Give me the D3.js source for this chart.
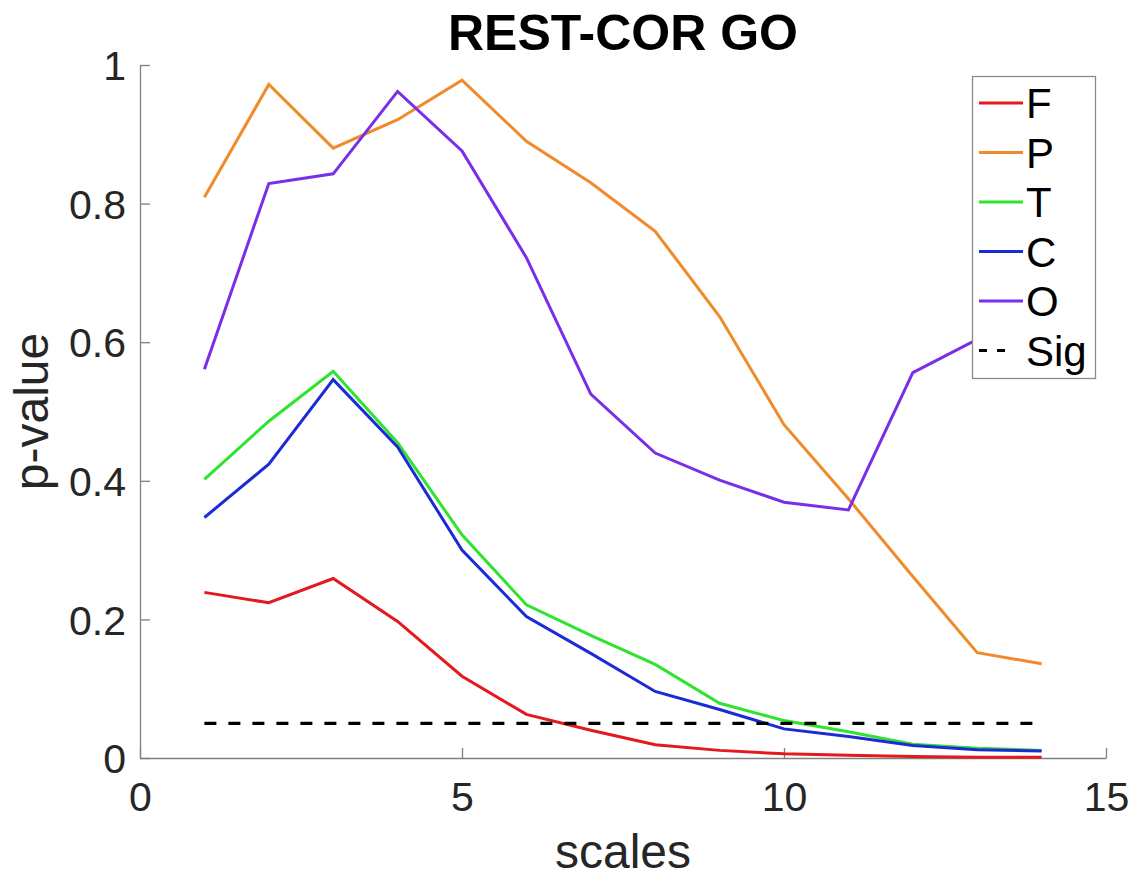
<!DOCTYPE html>
<html>
<head>
<meta charset="utf-8">
<script src="https://cdn.jsdelivr.net/npm/d3@7"></script>
<style>
  html, body { margin: 0; padding: 0; background: #fff; }
  svg { display: block; font-family: "Liberation Sans", Arial, Helvetica, sans-serif; }
</style>
</head>
<body>
<svg id="chart" width="1138" height="884"></svg>
<script>
// ---- data ----
const scales = [1,2,3,4,5,6,7,8,9,10,11,12,13,14];
const seriesF = [0.239,0.224,0.259,0.197,0.118,0.063,0.040,0.019,0.011,0.006,0.004,0.002,0.001,0.001];
const seriesP = [0.809,0.972,0.880,0.921,0.978,0.890,0.830,0.760,0.637,0.481,0.374,0.262,0.152,0.136];
const seriesT = [0.402,0.486,0.558,0.455,0.322,0.221,0.177,0.135,0.079,0.054,0.038,0.020,0.014,0.011];
const seriesC = [0.347,0.424,0.546,0.449,0.300,0.204,0.151,0.096,0.070,0.042,0.031,0.018,0.012,0.010];
const seriesO = [0.561,0.829,0.843,0.962,0.876,0.722,0.525,0.440,0.401,0.369,0.358,0.556,0.604,0.640];
const sigLevel = 0.05;
const seriesNames = ["F","P","T","C","O"];
const seriesColors = ["#e3191e","#f08a2a","#2fe32f","#1b2bd6","#7a2ee8"];
const xTicks = [0,5,10,15];
const yTicks = [0,0.2,0.4,0.6,0.8,1];
const yTickLabels = ["0","0.2","0.4","0.6","0.8","1"];
const titleText = "REST-COR GO";
const xLabel = "scales";
const yLabel = "p-value";

const allSeries = [seriesF, seriesP, seriesT, seriesC, seriesO];

// ---- layout ----
const svg = d3.select("#chart");
const mLeft = 140, mRight = 1106, mTop = 65, mBottom = 758;
const x = d3.scaleLinear().domain([0,15]).range([mLeft,mRight]);
const y = d3.scaleLinear().domain([0,1]).range([mBottom,mTop]);
const axisColor = "#7f7f7f";
const textColor = "#262626";

// axes
const xAxis = svg.append("g").attr("transform", `translate(0,${mBottom})`)
  .call(d3.axisBottom(x).tickValues(xTicks).tickSizeInner(-10).tickSizeOuter(0).tickPadding(24).tickFormat(d3.format("d")));
const yAxis = svg.append("g").attr("transform", `translate(${mLeft},0)`)
  .call(d3.axisLeft(y).tickValues(yTicks).tickSizeInner(-10).tickSizeOuter(0).tickPadding(14).tickFormat((d,i)=>yTickLabels[i]));
[xAxis, yAxis].forEach(g => {
  g.select(".domain").attr("stroke", axisColor).attr("stroke-width", 1.3);
  g.selectAll(".tick line").attr("stroke", axisColor).attr("stroke-width", 1.3);
  g.selectAll(".tick text").attr("fill", textColor).style("font-size", "41px").style("font-family", "'Liberation Sans', Arial, sans-serif");
});
xAxis.selectAll(".tick text").attr("dy", "0.71em");
yAxis.selectAll(".tick text").attr("dy", "0.36em");

// lines
const line = d3.line().x((d,i)=>x(scales[i])).y(d=>y(d));
allSeries.forEach((s, k) => {
  svg.append("path").datum(s)
    .attr("fill","none").attr("stroke", seriesColors[k]).attr("stroke-width", 3)
    .attr("stroke-linejoin","miter").attr("d", line);
});
// significance line
svg.append("path").datum(scales.map(()=>sigLevel))
  .attr("fill","none").attr("stroke","#000").attr("stroke-width",3.2)
  .attr("stroke-dasharray","12,12").attr("d", line);

// title
svg.append("text").attr("x", (mLeft+mRight)/2).attr("y", 50)
  .attr("text-anchor","middle").attr("font-weight","bold").attr("font-size", 50)
  .attr("fill","#000").text(titleText);

// axis labels
svg.append("text").attr("x", (mLeft+mRight)/2).attr("y", 868)
  .attr("text-anchor","middle").attr("font-size", 48).attr("fill", textColor).text(xLabel);
svg.append("text").attr("transform", `translate(48,${(mTop+mBottom)/2}) rotate(-90)`)
  .attr("text-anchor","middle").attr("font-size", 48).attr("fill", textColor).text(yLabel);

// legend
const lg = svg.append("g");
lg.append("rect").attr("x", 972.5).attr("y", 76.5).attr("width", 123).attr("height", 302)
  .attr("fill","#fff").attr("stroke","#8a8a8a").attr("stroke-width",1.3);
const legendNames = seriesNames.concat(["Sig"]);
const legendColors = seriesColors.concat(["#000"]);
legendNames.forEach((name, i) => {
  const cy = 103 + i*49.5;
  lg.append("line").attr("x1", 979).attr("x2", name === "Sig" ? 1006 : 1023).attr("y1", cy).attr("y2", cy)
    .attr("stroke", legendColors[i]).attr("stroke-width", 3)
    .attr("stroke-dasharray", name === "Sig" ? "8,10" : null);
  lg.append("text").attr("x", 1026).attr("y", cy).attr("dy","0.36em")
    .attr("font-size", 42).attr("fill","#000").text(name);
});
</script>
</body>
</html>
